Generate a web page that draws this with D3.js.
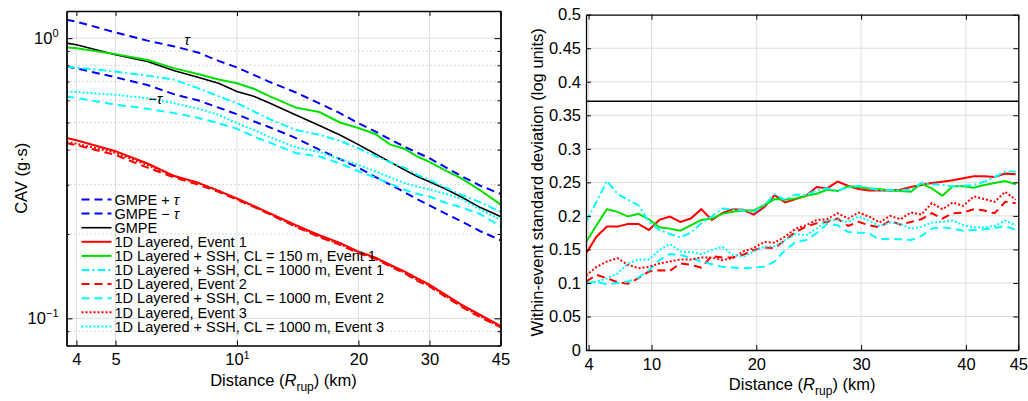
<!DOCTYPE html>
<html>
<head>
<meta charset="utf-8">
<script src="https://cdn.jsdelivr.net/npm/d3@7"></script>
<style>
  body { margin: 0; background: #fff; }
  svg { font-family: "Liberation Sans", Arial, Helvetica, sans-serif; }
</style>
</head>
<body>
<svg width="1028" height="401"></svg>
<script>
// ---- left panel: CAV vs distance (log-log) ----
const cavDist = [3.78, 4, 5, 6, 7, 8, 9, 10, 11, 12, 14, 16, 18, 20, 22, 24, 26, 28, 30, 33, 36, 40, 45];
const gmpePlusTau  = [1.163, 1.145, 1.048, 0.98, 0.934, 0.889, 0.83, 0.786, 0.74, 0.70, 0.64, 0.585, 0.54, 0.497, 0.465, 0.435, 0.41, 0.39, 0.373, 0.345, 0.322, 0.298, 0.278];
const gmpeMinusTau = [0.792, 0.78, 0.725, 0.68, 0.63, 0.60, 0.565, 0.535, 0.505, 0.482, 0.44, 0.40, 0.37, 0.345, 0.32, 0.30, 0.282, 0.266, 0.253, 0.236, 0.222, 0.205, 0.19];
const gmpe         = [0.96, 0.947, 0.873, 0.825, 0.765, 0.725, 0.69, 0.645, 0.62, 0.588, 0.532, 0.488, 0.451, 0.417, 0.387, 0.361, 0.339, 0.321, 0.307, 0.289, 0.271, 0.249, 0.231];
const layeredEv1   = [0.44, 0.432, 0.395, 0.357, 0.322, 0.305, 0.285, 0.268, 0.252, 0.238, 0.215, 0.198, 0.186, 0.173, 0.165, 0.155, 0.147, 0.139, 0.132, 0.121, 0.112, 0.103, 0.094];
const ssh150Ev1    = [0.927, 0.92, 0.877, 0.835, 0.78, 0.745, 0.712, 0.69, 0.66, 0.622, 0.565, 0.545, 0.50, 0.478, 0.455, 0.417, 0.403, 0.378, 0.362, 0.336, 0.316, 0.287, 0.255];
const ssh1000Ev1   = [0.792, 0.785, 0.76, 0.735, 0.71, 0.663, 0.62, 0.586, 0.548, 0.515, 0.47, 0.452, 0.43, 0.404, 0.38, 0.36, 0.345, 0.325, 0.312, 0.292, 0.276, 0.26, 0.24];
const layeredEv2   = [0.422, 0.415, 0.383, 0.345, 0.318, 0.3, 0.283, 0.265, 0.25, 0.236, 0.212, 0.195, 0.183, 0.171, 0.163, 0.153, 0.145, 0.136, 0.13, 0.119, 0.11, 0.101, 0.093];
const ssh1000Ev2   = [0.619, 0.612, 0.579, 0.56, 0.54, 0.52, 0.497, 0.475, 0.446, 0.425, 0.389, 0.378, 0.357, 0.335, 0.318, 0.302, 0.288, 0.278, 0.272, 0.258, 0.249, 0.236, 0.213];
const layeredEv3   = [0.426, 0.42, 0.39, 0.352, 0.322, 0.304, 0.286, 0.266, 0.251, 0.237, 0.213, 0.196, 0.184, 0.172, 0.164, 0.154, 0.146, 0.137, 0.131, 0.12, 0.111, 0.102, 0.093];
const ssh1000Ev3   = [0.645, 0.642, 0.628, 0.61, 0.586, 0.56, 0.533, 0.497, 0.471, 0.445, 0.407, 0.393, 0.37, 0.353, 0.335, 0.318, 0.304, 0.295, 0.288, 0.278, 0.267, 0.245, 0.225];

const cavXTicks = [4, 5, 10, 20, 30, 45];
const cavYMajor = [0.1, 1];
const cavYMinor = [0.08, 0.09, 0.2, 0.3, 0.4, 0.5, 0.6, 0.7, 0.8, 0.9];

// ---- right panel: within-event standard deviation ----
const sdDist = [3.75, 4.75, 5.75, 6.75, 7.75, 8.75, 9.75, 10.75, 11.75, 12.75, 13.75, 14.75, 15.75, 16.75, 17.75, 18.75, 19.75, 20.75, 21.75, 22.75, 23.75,
                24.75, 25.75, 26.75, 27.75, 28.75, 29.75, 30.75, 31.75, 32.75, 33.75, 34.75, 35.75, 36.75, 37.75, 38.75, 39.75, 40.75, 41.75, 42.75, 43.75, 44.75];
const sdGmpe = 0.371;
const sdLayeredEv1 = [0.144, 0.169, 0.184, 0.184, 0.188, 0.188, 0.179, 0.194, 0.199, 0.191, 0.196, 0.21, 0.194, 0.204, 0.21, 0.209, 0.202, 0.213, 0.231, 0.22, 0.225,
                      0.23, 0.243, 0.241, 0.251, 0.245, 0.24, 0.238, 0.238, 0.238, 0.239, 0.243, 0.246, 0.249, 0.251, 0.253, 0.256, 0.259, 0.259, 0.258, 0.263, 0.262];
const sdSsh150Ev1  = [0.161, 0.186, 0.21, 0.206, 0.199, 0.203, 0.195, 0.183, 0.181, 0.178, 0.186, 0.194, 0.196, 0.203, 0.206, 0.208, 0.208, 0.216, 0.225, 0.224, 0.226,
                      0.23, 0.233, 0.239, 0.237, 0.244, 0.243, 0.241, 0.24, 0.238, 0.237, 0.236, 0.248, 0.241, 0.23, 0.244, 0.244, 0.242, 0.246, 0.249, 0.252, 0.247];
const sdSsh1000Ev1 = [0.191, 0.221, 0.252, 0.233, 0.224, 0.216, 0.191, 0.179, 0.173, 0.168, 0.175, 0.189, 0.199, 0.211, 0.21, 0.208, 0.206, 0.216, 0.232, 0.224, 0.232,
                      0.231, 0.238, 0.241, 0.238, 0.242, 0.245, 0.242, 0.238, 0.239, 0.238, 0.239, 0.249, 0.247, 0.246, 0.244, 0.245, 0.246, 0.251, 0.258, 0.266, 0.266];
const sdLayeredEv2 = [0.102, 0.112, 0.107, 0.101, 0.099, 0.107, 0.117, 0.119, 0.118, 0.129, 0.127, 0.123, 0.14, 0.138, 0.138, 0.142, 0.149, 0.153, 0.152, 0.164, 0.176,
                      0.184, 0.189, 0.191, 0.196, 0.185, 0.191, 0.186, 0.183, 0.193, 0.187, 0.191, 0.195, 0.204, 0.196, 0.204, 0.205, 0.21, 0.208, 0.204, 0.221, 0.219];
const sdSsh1000Ev2 = [0.099, 0.102, 0.098, 0.1, 0.102, 0.108, 0.119, 0.134, 0.143, 0.142, 0.137, 0.132, 0.128, 0.124, 0.123, 0.122, 0.123, 0.124, 0.132, 0.149, 0.161,
                      0.164, 0.174, 0.188, 0.186, 0.176, 0.175, 0.174, 0.165, 0.166, 0.165, 0.164, 0.17, 0.181, 0.183, 0.181, 0.178, 0.179, 0.18, 0.182, 0.185, 0.179];
const sdLayeredEv3 = [0.111, 0.124, 0.132, 0.137, 0.127, 0.122, 0.124, 0.129, 0.132, 0.135, 0.135, 0.138, 0.138, 0.134, 0.137, 0.147, 0.152, 0.161, 0.16, 0.169, 0.181,
                      0.186, 0.194, 0.195, 0.204, 0.196, 0.205, 0.199, 0.19, 0.2, 0.195, 0.205, 0.202, 0.219, 0.21, 0.22, 0.215, 0.229, 0.225, 0.221, 0.236, 0.224];
const sdSsh1000Ev3 = [0.099, 0.102, 0.107, 0.114, 0.129, 0.135, 0.135, 0.149, 0.158, 0.147, 0.146, 0.143, 0.149, 0.154, 0.142, 0.139, 0.147, 0.154, 0.155, 0.164, 0.173,
                      0.171, 0.181, 0.193, 0.194, 0.191, 0.199, 0.193, 0.185, 0.19, 0.188, 0.181, 0.184, 0.19, 0.191, 0.193, 0.186, 0.183, 0.183, 0.185, 0.193, 0.186];

const sdXTicks = [4, 10, 20, 30, 40, 45];
const sdYTicks = [0, 0.05, 0.1, 0.15, 0.2, 0.25, 0.3, 0.35, 0.4, 0.45, 0.5];

const legendLabels = ["GMPE + τ", "GMPE − τ", "GMPE", "1D Layered, Event 1", "1D Layered + SSH, CL = 150 m, Event 1",
  "1D Layered + SSH, CL = 1000 m, Event 1", "1D Layered, Event 2", "1D Layered + SSH, CL = 1000 m, Event 2",
  "1D Layered, Event 3", "1D Layered + SSH, CL = 1000 m, Event 3"];

// line styles
const DASH = "8,5", DOT = "2,2", DASHDOT = "8,3,2,3";
const RED = "#ff0000", GREEN = "#00e000", CYAN = "#00ffff", BLUE = "#0000ff";

var leftSeries = [
  {v: gmpePlusTau,  color: BLUE,  dash: DASH,    w: 2},
  {v: gmpeMinusTau, color: BLUE,  dash: DASH,    w: 2},
  {v: gmpe,         color: "#000", dash: null,   w: 1.6},
  {v: layeredEv1,   color: RED,   dash: null,    w: 2},
  {v: ssh150Ev1,    color: GREEN, dash: null,    w: 2},
  {v: ssh1000Ev1,   color: CYAN,  dash: DASHDOT, w: 2},
  {v: layeredEv2,   color: RED,   dash: DASH,    w: 2},
  {v: ssh1000Ev2,   color: CYAN,  dash: DASH,    w: 2},
  {v: layeredEv3,   color: RED,   dash: DOT,     w: 2},
  {v: ssh1000Ev3,   color: CYAN,  dash: DOT,     w: 2}
];

var rightSeries = [
  {v: sdLayeredEv1,  color: RED,   dash: null,    w: 2},
  {v: sdSsh150Ev1,   color: GREEN, dash: null,    w: 2},
  {v: sdSsh1000Ev1,  color: CYAN,  dash: DASHDOT, w: 2},
  {v: sdLayeredEv2,  color: RED,   dash: DASH,    w: 2},
  {v: sdSsh1000Ev2,  color: CYAN,  dash: DASH,    w: 2},
  {v: sdLayeredEv3,  color: RED,   dash: DOT,     w: 2},
  {v: sdSsh1000Ev3,  color: CYAN,  dash: DOT,     w: 2}
];

var svg = d3.select("svg");
var defs = svg.append("defs");

var FS = 16.5;
var gridColor = "#dedede";

// ================= left panel =================
var L = {left: 66.5, right: 500.5, top: 11, bottom: 345.5};
var xL = d3.scaleLog().domain([3.78, 45]).range([L.left, L.right]);
var yL = d3.scaleLog().domain([0.08, 1.25]).range([L.bottom, L.top]);

defs.append("clipPath").attr("id", "clipL").append("rect")
    .attr("x", L.left).attr("y", L.top).attr("width", L.right - L.left).attr("height", L.bottom - L.top);

var gL = svg.append("g");

// grid
gL.selectAll(".vgrid").data(cavXTicks.filter(d => d < 45)).enter().append("line")
  .attr("x1", d => xL(d)).attr("x2", d => xL(d))
  .attr("y1", L.top).attr("y2", L.bottom)
  .attr("stroke", gridColor).attr("stroke-width", 1);
gL.selectAll(".hmin").data(cavYMinor).enter().append("line")
  .attr("x1", L.left).attr("x2", L.right)
  .attr("y1", d => yL(d)).attr("y2", d => yL(d))
  .attr("stroke", "#b4b4b4").attr("stroke-width", 1).attr("stroke-dasharray", "1,3");
gL.selectAll(".hmaj").data(cavYMajor).enter().append("line")
  .attr("x1", L.left).attr("x2", L.right)
  .attr("y1", d => yL(d)).attr("y2", d => yL(d))
  .attr("stroke", gridColor).attr("stroke-width", 1);

// lines
var lineL = d3.line().x((d, i) => xL(cavDist[i])).y(d => yL(d));
gL.append("g").attr("clip-path", "url(#clipL)")
  .selectAll("path").data(leftSeries).enter().append("path")
  .attr("d", d => lineL(d.v))
  .attr("fill", "none")
  .attr("stroke", d => d.color)
  .attr("stroke-width", d => d.w)
  .attr("stroke-dasharray", d => d.dash);

// tau annotations
var tauLabels = [{t: "τ", d: 7.52, v: 0.985}, {t: "−τ", d: 6.27, v: 0.61}];
gL.selectAll(".tau").data(tauLabels).enter().append("text")
  .attr("x", d => xL(d.d)).attr("y", d => yL(d.v))
  .attr("dy", "0.35em").attr("text-anchor", "middle")
  .attr("font-size", 15).attr("font-style", "italic")
  .text(d => d.t);

// axes (ticks inside)
function styleAxis(g) {
  g.select(".domain").attr("stroke", "#000").attr("stroke-width", 1.3);
  g.selectAll(".tick line").attr("stroke", "#000");
  g.selectAll("text").attr("font-size", FS).attr("fill", "#000").attr("font-family", null);
}

var axBL = svg.append("g").attr("transform", `translate(0,${L.bottom})`)
  .call(d3.axisBottom(xL).tickValues(cavXTicks).tickSizeInner(-5).tickSizeOuter(0).tickPadding(8)
        .tickFormat(d => d === 10 ? "" : d));
styleAxis(axBL);
axBL.selectAll(".tick").filter(d => d === 10).select("text")
  .each(function() {
    var t = d3.select(this);
    t.append("tspan").text("10");
    t.append("tspan").attr("font-size", 11).attr("dy", -6).text("1");
  });

var axTL = svg.append("g").attr("transform", `translate(0,${L.top})`)
  .call(d3.axisTop(xL).tickValues(cavXTicks).tickSizeInner(-5).tickSizeOuter(0).tickFormat(""));
styleAxis(axTL);

var axLL = svg.append("g").attr("transform", `translate(${L.left},0)`)
  .call(d3.axisLeft(yL).tickValues(cavYMajor).tickSizeInner(-6).tickSizeOuter(0).tickPadding(8).tickFormat(""));
styleAxis(axLL);
axLL.selectAll(".tick text").each(function(d) {
  var t = d3.select(this);
  t.append("tspan").text("10");
  t.append("tspan").attr("font-size", 11).attr("dy", -7).text(d === 1 ? "0" : "−1");
});
svg.append("g").attr("transform", `translate(${L.left},0)`)
  .call(d3.axisLeft(yL).tickValues(cavYMinor).tickSizeInner(-3).tickSizeOuter(0).tickFormat(""))
  .call(styleAxis);

var axRL = svg.append("g").attr("transform", `translate(${L.right},0)`)
  .call(d3.axisRight(yL).tickValues(cavYMajor).tickSizeInner(-6).tickSizeOuter(0).tickFormat(""));
styleAxis(axRL);
svg.append("g").attr("transform", `translate(${L.right},0)`)
  .call(d3.axisRight(yL).tickValues(cavYMinor).tickSizeInner(-3).tickSizeOuter(0).tickFormat(""))
  .call(styleAxis);

// axis titles
function distanceTitle(cx, y) {
  var t = svg.append("text").attr("x", cx).attr("y", y)
    .attr("text-anchor", "middle").attr("font-size", FS);
  t.append("tspan").text("Distance (");
  t.append("tspan").attr("font-style", "italic").text("R");
  t.append("tspan").attr("font-size", 12).attr("dy", 5).text("rup");
  t.append("tspan").attr("dy", -5).text(") (km)");
}
distanceTitle((L.left + L.right) / 2, 386);

svg.append("text")
  .attr("transform", `translate(26.5,${(L.top + L.bottom) / 2}) rotate(-90)`)
  .attr("text-anchor", "middle").attr("font-size", FS)
  .text("CAV (g·s)");

// legend (tau in italics)
var leg = svg.append("g");
var legRow = leg.selectAll("g").data(leftSeries).enter().append("g")
  .attr("transform", (d, i) => `translate(81.5,${199.5 + i * 14.1})`);
legRow.append("line")
  .attr("x1", 0).attr("x2", 30)
  .attr("stroke", d => d.color).attr("stroke-width", d => d.w)
  .attr("stroke-dasharray", d => d.dash);
legRow.append("text")
  .attr("x", 33).attr("dy", "0.36em")
  .attr("font-size", 14.5)
  .each(function(d, i) {
    var t = d3.select(this);
    legendLabels[i].split(/(τ)/).forEach(function(part) {
      if (part === "") return;
      t.append("tspan").attr("font-style", part === "τ" ? "italic" : null).text(part);
    });
  });

// ================= right panel =================
var R = {left: 586, right: 1018.3, top: 14.7, bottom: 350};
var xR = d3.scaleLinear().domain([3.75, 45]).range([R.left, R.right]);
var yR = d3.scaleLinear().domain([0, 0.5]).range([R.bottom, R.top]);

defs.append("clipPath").attr("id", "clipR").append("rect")
    .attr("x", R.left).attr("y", R.top).attr("width", R.right - R.left).attr("height", R.bottom - R.top);

var gR = svg.append("g");
gR.selectAll(".vgrid").data(sdXTicks.filter(d => d < 45)).enter().append("line")
  .attr("x1", d => xR(d)).attr("x2", d => xR(d))
  .attr("y1", R.top).attr("y2", R.bottom)
  .attr("stroke", gridColor).attr("stroke-width", 1);
gR.selectAll(".hgrid").data(sdYTicks.filter(d => d > 0 && d < 0.5)).enter().append("line")
  .attr("x1", R.left).attr("x2", R.right)
  .attr("y1", d => yR(d)).attr("y2", d => yR(d))
  .attr("stroke", gridColor).attr("stroke-width", 1);

var lineR = d3.line().x((d, i) => xR(sdDist[i])).y(d => yR(d));
var gRL = gR.append("g").attr("clip-path", "url(#clipR)");
gRL.append("line")
  .attr("x1", xR(xR.domain()[0])).attr("x2", xR(xR.domain()[1]))
  .attr("y1", yR(sdGmpe)).attr("y2", yR(sdGmpe))
  .attr("stroke", "#000").attr("stroke-width", 1.6);
gRL.selectAll("path").data(rightSeries).enter().append("path")
  .attr("d", d => lineR(d.v))
  .attr("fill", "none")
  .attr("stroke", d => d.color)
  .attr("stroke-width", d => d.w)
  .attr("stroke-dasharray", d => d.dash);

svg.append("g").attr("transform", `translate(0,${R.bottom})`)
  .call(d3.axisBottom(xR).tickValues(sdXTicks).tickSizeInner(-5).tickSizeOuter(0).tickPadding(8))
  .call(styleAxis);
svg.append("g").attr("transform", `translate(0,${R.top})`)
  .call(d3.axisTop(xR).tickValues(sdXTicks).tickSizeInner(-5).tickSizeOuter(0).tickFormat(""))
  .call(styleAxis);
svg.append("g").attr("transform", `translate(${R.left},0)`)
  .call(d3.axisLeft(yR).tickValues(sdYTicks).tickSizeInner(-5).tickSizeOuter(0).tickPadding(5).tickFormat(d3.format("~g")))
  .call(styleAxis);
svg.append("g").attr("transform", `translate(${R.right},0)`)
  .call(d3.axisRight(yR).tickValues(sdYTicks).tickSizeInner(-5).tickSizeOuter(0).tickFormat(""))
  .call(styleAxis);

distanceTitle((R.left + R.right) / 2, 390);

svg.append("text")
  .attr("transform", `translate(543,${(R.top + R.bottom) / 2}) rotate(-90)`)
  .attr("text-anchor", "middle").attr("font-size", FS)
  .text("Within-event standard deviation (log units)");
</script>
</body>
</html>
